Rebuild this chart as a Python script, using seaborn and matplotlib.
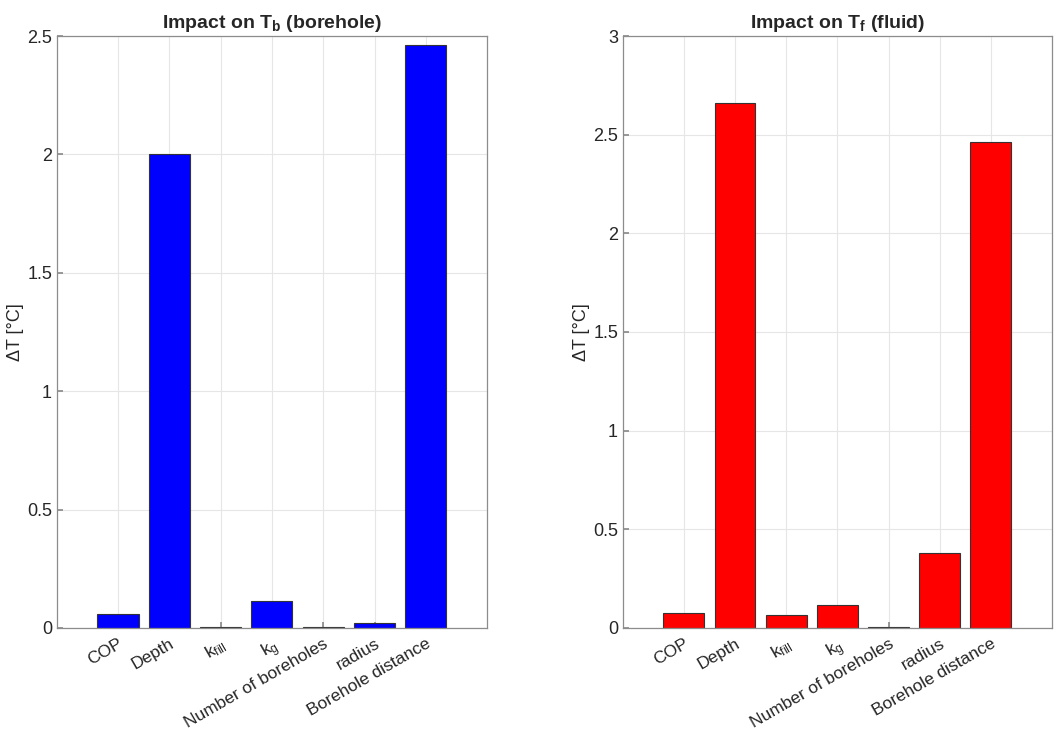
import matplotlib
matplotlib.use("Agg")
import matplotlib.pyplot as plt
import seaborn as sns
import pandas as pd

# Parameters varied in the sensitivity study
categories = ["COP", "Depth", "k$_{fill}$", "k$_{g}$", "Number of boreholes",
              "radius", "Borehole distance"]
# Temperature change caused by each parameter [°C]
delta_tb = [0.059, 2.002, 0.004, 0.115, 0.003, 0.021, 2.462]
delta_tf = [0.076, 2.661, 0.068, 0.115, 0.003, 0.380, 2.463]

sns.set_theme(style="whitegrid")
plt.rcParams["font.family"] = ["Liberation Sans", "DejaVu Sans"]
plt.rcParams["mathtext.fontset"] = "custom"
plt.rcParams["mathtext.rm"] = "Liberation Sans"
plt.rcParams["mathtext.it"] = "Liberation Sans"
plt.rcParams["mathtext.bf"] = "Liberation Sans:bold"
plt.rcParams["mathtext.default"] = "regular"

fig = plt.figure(figsize=(10.54, 7.35), dpi=100)
ax1 = fig.add_axes([0.054, 0.1456, 0.408, 0.8054])
ax2 = fig.add_axes([0.591, 0.1456, 0.407, 0.8054])

panels = [
    (ax1, delta_tb, "#0000ff", "Impact on T$_{\\mathbf{b}}$ (borehole)", 2.5),
    (ax2, delta_tf, "#ff0000", "Impact on T$_{\\mathbf{f}}$ (fluid)", 3.0),
]

for ax, vals, col, title, ymax in panels:
    df = pd.DataFrame({"param": categories, "dT": vals})
    sns.barplot(data=df, x="param", y="dT", color=col, saturation=1,
                width=0.8, edgecolor="#333333", linewidth=0.8, ax=ax)
    ax.set_xlim(-1.19, 7.19)
    ax.set_ylim(0, ymax)
    ax.set_yticks([i * 0.5 for i in range(int(ymax / 0.5) + 1)])
    ax.set_yticklabels([f"{v:g}" for v in ax.get_yticks()])
    ax.set_xlabel("")
    ax.set_ylabel("ΔT [°C]", fontsize=13, color="#262626", labelpad=2)
    ax.set_title(title, fontsize=14, fontweight="bold", pad=6)
    ax.grid(True, color="#e6e6e6", linewidth=0.8)
    ax.set_axisbelow(True)
    for s in ax.spines.values():
        s.set_visible(True)
        s.set_color("#8c8c8c")
        s.set_linewidth(0.9)
    ax.tick_params(axis="both", direction="in", length=4, color="#8c8c8c",
                   labelsize=13, labelcolor="#262626", left=True, bottom=True,
                   top=False, right=False)
    ax.tick_params(axis="x", pad=6)
    plt.setp(ax.get_xticklabels(), rotation=30, ha="right",
             rotation_mode="anchor", fontsize=12.5)

fig.savefig("out.png", dpi=100, facecolor="white")
